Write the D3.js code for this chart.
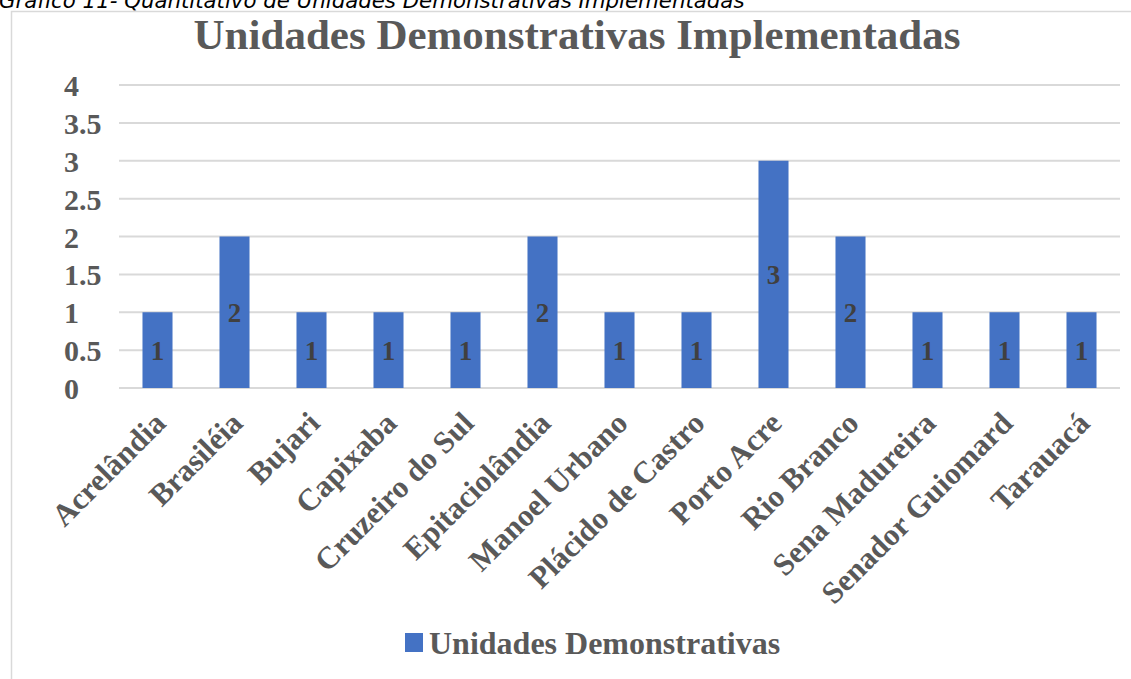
<!DOCTYPE html>
<html>
<head>
<meta charset="utf-8">
<script src="https://cdn.jsdelivr.net/npm/d3@7"></script>
<style>
  body { margin: 0; background: #fff; }
  svg { display: block; }
</style>
</head>
<body>
<svg id="chart"></svg>
<script>
// data
const caption = 'Gráfico 11- Quantitativo de Unidades Demonstrativas Implementadas';
const title = 'Unidades Demonstrativas Implementadas';
const seriesName = 'Unidades Demonstrativas';
const categories = ['Acrelândia', 'Brasiléia', 'Bujari', 'Capixaba', 'Cruzeiro do Sul',
    'Epitaciolândia', 'Manoel Urbano', 'Plácido de Castro', 'Porto Acre', 'Rio Branco',
    'Sena Madureira', 'Senador Guiomard', 'Tarauacá'];
const values = [1, 2, 1, 1, 1, 2, 1, 1, 3, 2, 1, 1, 1];
const yTicks = [0, 0.5, 1, 1.5, 2, 2.5, 3, 3.5, 4];

const w = 1131, h = 679;
const barColor = '#4472C4';
const textGray = '#595959';
const serif = '"Liberation Serif", "Times New Roman", serif';

let svg = d3.select('#chart')
    .attr('width', w)
    .attr('height', h);

//caption above the chart, top cut off like the source
let cap = svg.append('text')
    .attr('x', -1)
    .attr('y', 8)
    .style('font-family', '"DejaVu Sans", Verdana, sans-serif')
    .style('font-style', 'italic')
    .style('font-size', '19px')
    .attr('fill', '#000')
    .text(caption);
//stretch font size so the caption ends near x=745
let capLen = cap.node().getComputedTextLength();
cap.style('font-size', (19 * 746 / capLen) + 'px');

//chart frame
svg.append('rect')
    .attr('x', 11.5)
    .attr('y', 11.5)
    .attr('width', w + 20)
    .attr('height', h + 20)
    .attr('fill', 'none')
    .attr('stroke', '#d9d9d9')
    .attr('stroke-width', 1.5);

let xScale = d3.scaleBand()
    .domain(categories)
    .range([119, 1120])
    .paddingInner(0.61)
    .paddingOuter(0.305);

let yScale = d3.scaleLinear()
    .domain([0, 4])
    .range([388, 85]);

//gridlines
svg.append('g')
    .selectAll('line')
    .data(yTicks)
    .enter()
    .append('line')
    .attr('x1', 119)
    .attr('x2', 1120)
    .attr('y1', d => yScale(d))
    .attr('y2', d => yScale(d))
    .attr('stroke', '#d9d9d9')
    .attr('stroke-width', 2);

//y tick labels
svg.append('g')
    .selectAll('text')
    .data(yTicks)
    .enter()
    .append('text')
    .attr('x', 64)
    .attr('y', d => yScale(d) + 11)
    .style('font-family', serif)
    .style('font-weight', 'bold')
    .style('font-size', '30px')
    .attr('fill', textGray)
    .text(d => d);

//title
svg.append('text')
    .attr('x', 577)
    .attr('y', 49)
    .style('text-anchor', 'middle')
    .style('font-family', serif)
    .style('font-weight', 'bold')
    .style('font-size', '43px')
    .attr('fill', textGray)
    .text(title);

//bars
svg.append('g')
    .selectAll('rect')
    .data(values)
    .enter()
    .append('rect')
    .attr('x', (d, i) => xScale(categories[i]))
    .attr('y', d => yScale(d))
    .attr('width', xScale.bandwidth())
    .attr('height', d => yScale(0) - yScale(d))
    .attr('fill', barColor);

//data labels
svg.append('g')
    .selectAll('text')
    .data(values)
    .enter()
    .append('text')
    .attr('x', (d, i) => xScale(categories[i]) + xScale.bandwidth() / 2)
    .attr('y', d => yScale(d / 2) + 10)
    .style('text-anchor', 'middle')
    .style('font-family', serif)
    .style('font-weight', 'bold')
    .style('font-size', '27px')
    .attr('fill', '#404040')
    .text(d => d);

//x labels, rotated
svg.append('g')
    .selectAll('text')
    .data(categories)
    .enter()
    .append('text')
    .attr('transform', d => {
        let x = xScale(d) + xScale.bandwidth() / 2 + 10;
        return 'translate(' + x + ', 425) rotate(-45)';
    })
    .style('text-anchor', 'end')
    .style('font-family', serif)
    .style('font-weight', 'bold')
    .style('font-size', '31px')
    .attr('fill', textGray)
    .text(d => d);

//legend
let legend = svg.append('g')
    .attr('transform', 'translate(405, 633)');

legend.append('rect')
    .attr('width', 18)
    .attr('height', 19)
    .attr('fill', barColor);

legend.append('text')
    .attr('x', 24)
    .attr('y', 21)
    .style('font-family', serif)
    .style('font-weight', 'bold')
    .style('font-size', '32px')
    .attr('fill', textGray)
    .text(seriesName);
</script>
</body>
</html>
